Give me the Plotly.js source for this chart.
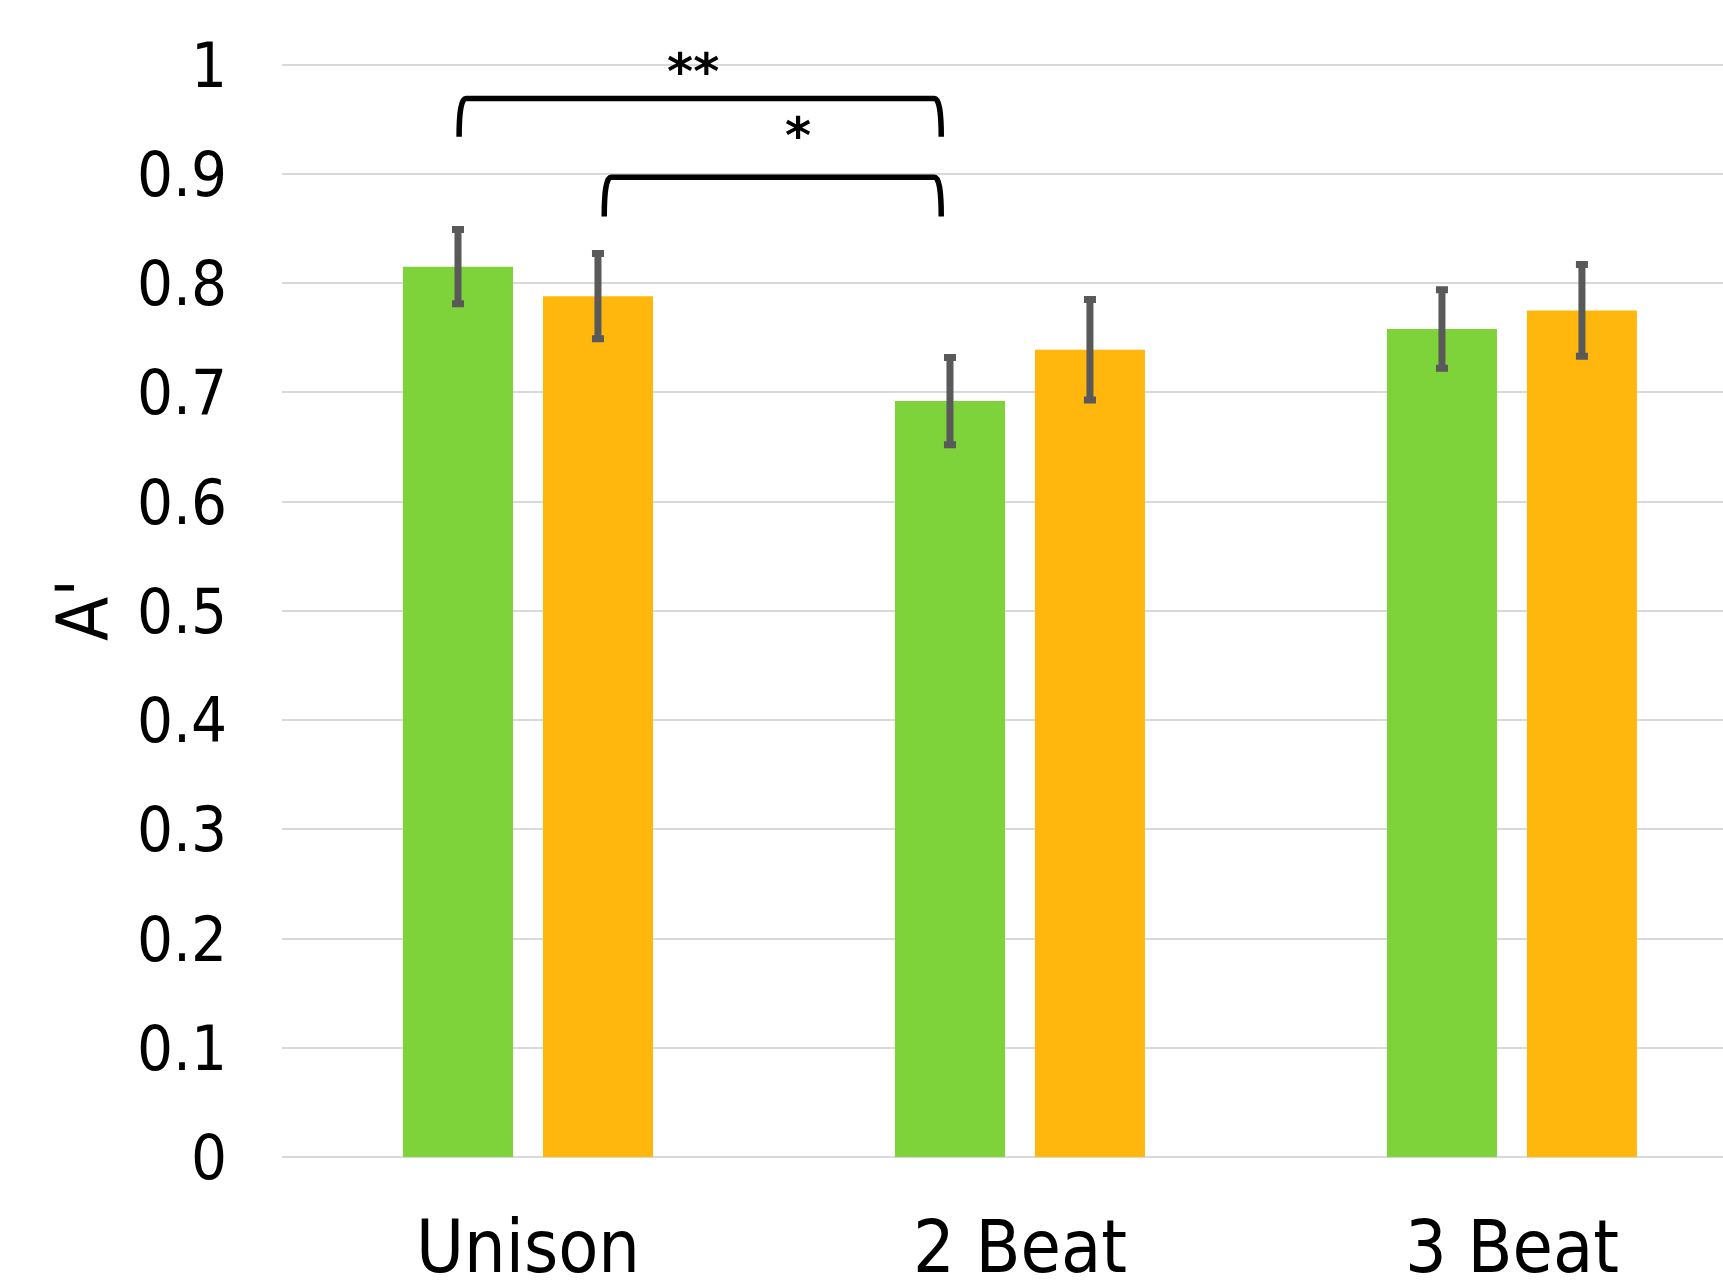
<!DOCTYPE html>
<html>
<head>
<meta charset="utf-8">
<script src="https://cdn.plot.ly/plotly-3.0.1.min.js"></script>
<style>html,body{margin:0;padding:0;background:#fff;}#chart{width:1723px;height:1280px;}</style>
</head>
<body>
<div id="chart"></div>
<script>
// ---- data ----
var categories = ['Unison', '2 Beat', '3 Beat'];
var catIndex = [0, 1, 2];
var greenValues = [0.815, 0.692, 0.758];
var greenErrors = [0.034, 0.040, 0.036];
var orangeValues = [0.788, 0.739, 0.775];
var orangeErrors = [0.039, 0.046, 0.042];
var yTickValues = [0, 0.1, 0.2, 0.3, 0.4, 0.5, 0.6, 0.7, 0.8, 0.9, 1];
var yTickLabels = ['0', '0.1', '0.2', '0.3', '0.4', '0.5', '0.6', '0.7', '0.8', '0.9', '1'];
// significance brackets: start x, end x (category units), bar height, leg bottom, label, label x, label y
var bracketStart = [-0.14, 0.155];
var bracketEnd = [0.84, 0.84];
var bracketTop = [0.969, 0.897];
var bracketBottom = [0.934, 0.861];
var bracketLabel = ['**', '*'];
var bracketLabelX = [0.335, 0.549];
var bracketLabelY = [0.993, 0.935];

var FONT = '"DejaVu Sans Condensed", "DejaVu Sans", sans-serif';

var traces = [
  {
    type: 'bar', x: catIndex, y: greenValues, name: 'A',
    marker: {color: '#7ED23A'},
    error_y: {type: 'data', array: greenErrors, visible: true, color: '#595959', thickness: 7, width: 6},
    cliponaxis: false, hoverinfo: 'skip'
  },
  {
    type: 'bar', x: catIndex, y: orangeValues, name: 'B',
    marker: {color: '#FFB70D'},
    error_y: {type: 'data', array: orangeErrors, visible: true, color: '#595959', thickness: 7, width: 6},
    cliponaxis: false, hoverinfo: 'skip'
  }
];

var shapes = [];
var annotations = [];
for (var i = 0; i < bracketStart.length; i++) {
  var x0 = bracketStart[i], x1 = bracketEnd[i], yt = bracketTop[i], yb = bracketBottom[i];
  var d = 0.014;
  var path = 'M ' + x0 + ',' + yb + ' Q ' + x0 + ',' + yt + ' ' + (x0 + d) + ',' + yt +
             ' L ' + (x1 - d) + ',' + yt + ' Q ' + x1 + ',' + yt + ' ' + x1 + ',' + yb;
  shapes.push({type: 'path', xref: 'x', yref: 'y', path: path, line: {color: '#000', width: 5.5}});
  annotations.push({
    xref: 'x', yref: 'y', x: bracketLabelX[i], y: bracketLabelY[i], text: '<b>' + bracketLabel[i] + '</b>',
    showarrow: false, font: {family: '"DejaVu Sans", sans-serif', size: 50, color: '#000'}, xanchor: 'center', yanchor: 'middle'
  });
}

var layout = {
  width: 1723, height: 1280,
  margin: {l: 282, r: 0, t: 63, b: 123, pad: 0},
  paper_bgcolor: '#fff', plot_bgcolor: '#fff',
  showlegend: false,
  barmode: 'group', bargap: 0.431, bargroupgap: 0.214,
  font: {family: FONT, color: '#000'},
  xaxis: {
    range: [-0.5, 2.429], tickvals: catIndex, ticktext: categories,
    showgrid: false, zeroline: false, showline: false, ticks: '',
    tickfont: {family: FONT, size: 73, color: '#000'},
    ticklabelstandoff: 41
  },
  yaxis: {
    range: [0, 1.0015], tickvals: yTickValues, ticktext: yTickLabels,
    showgrid: true, gridcolor: '#D9D9D9', gridwidth: 2,
    zeroline: true, zerolinecolor: '#D9D9D9', zerolinewidth: 2,
    showline: false, ticks: '',
    tickfont: {family: FONT, size: 63, color: '#000'},
    ticklabelstandoff: 54,
    title: {text: "A'", font: {family: FONT, size: 72, color: '#000'}, standoff: 5}
  },
  shapes: shapes,
  annotations: annotations
};

Plotly.newPlot('chart', traces, layout, {staticPlot: true, displayModeBar: false});
</script>
</body>
</html>
